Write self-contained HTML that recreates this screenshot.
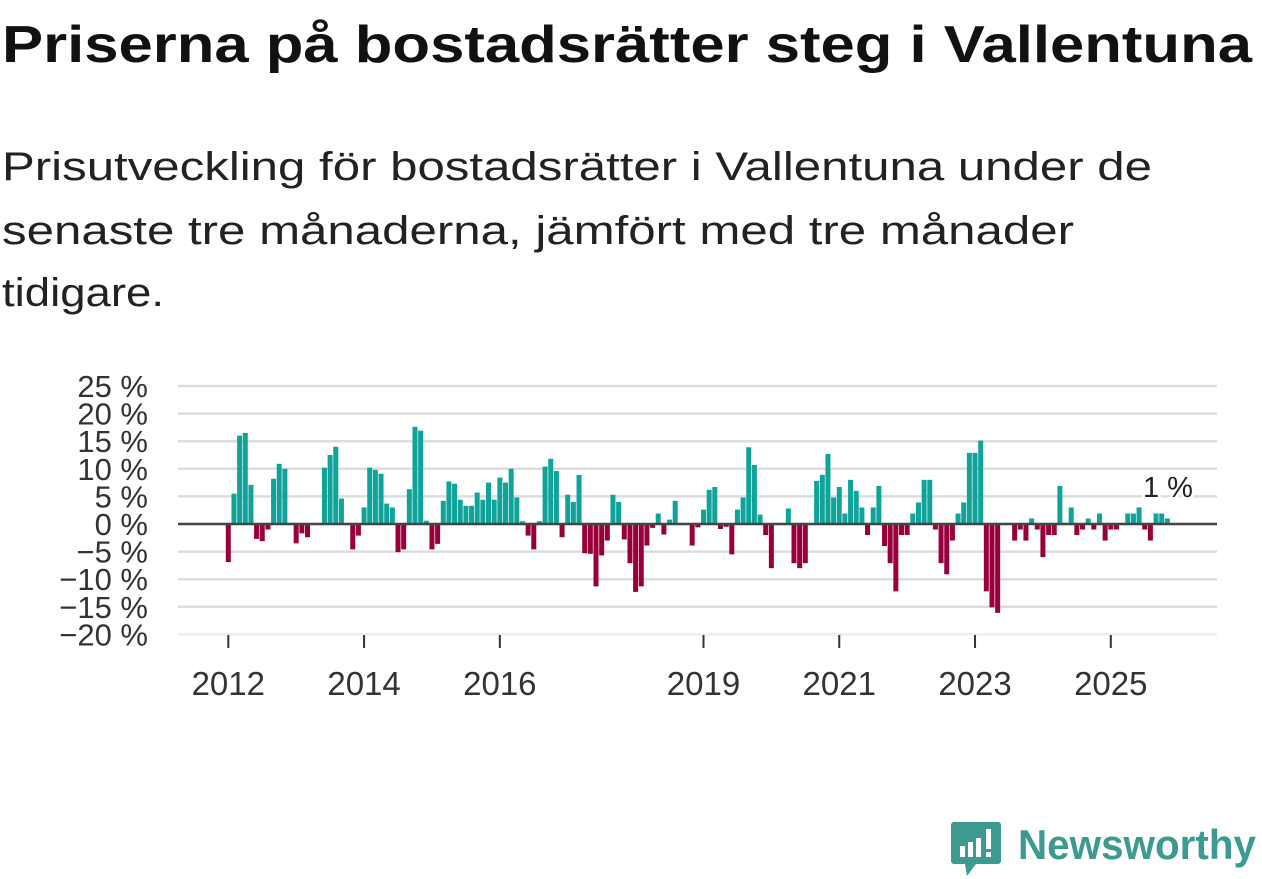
<!DOCTYPE html>
<html><head><meta charset="utf-8"><style>
html,body{margin:0;padding:0;background:#fff;}
svg{display:block;font-family:"Liberation Sans",sans-serif;}
</style></head><body>
<svg id="chart" width="1262" height="879" viewBox="0 0 1262 879">
<text x="2" y="62" font-size="52" font-weight="bold" fill="#111" textLength="1250" lengthAdjust="spacingAndGlyphs">Priserna på bostadsrätter steg i Vallentuna</text>
<g font-size="40" fill="#222">
<text x="2" y="180" textLength="1150" lengthAdjust="spacingAndGlyphs">Prisutveckling för bostadsrätter i Vallentuna under de</text>
<text x="2" y="244" textLength="1072" lengthAdjust="spacingAndGlyphs">senaste tre månaderna, jämfört med tre månader</text>
<text x="2" y="306" textLength="162" lengthAdjust="spacingAndGlyphs">tidigare.</text>
</g>
<g id="grid"></g>
<g id="ylabels"></g>
<g id="bars"></g>
<line x1="178" x2="1217" y1="524" y2="524" stroke="#444" stroke-width="2.5"/>
<g id="xticks"></g>
<text x="1168" y="497" text-anchor="middle" font-size="29" fill="#222" stroke="#fff" stroke-width="6" paint-order="stroke">1 %</text>
<g>
<path d="M954 822 h44 a3 3 0 0 1 3 3 v36 a3 3 0 0 1 -3 3 h-22 l-9 12 l-2 -12 h-11 a3 3 0 0 1 -3 -3 v-36 a3 3 0 0 1 3 -3z" fill="#3d9a90"/>
<rect x="960" y="846" width="5" height="11" fill="#fff"/><rect x="968" y="842" width="5" height="15" fill="#fff"/><rect x="976" y="838" width="5" height="19" fill="#fff"/><rect x="986" y="829" width="5" height="20" fill="#fff"/><rect x="986" y="852" width="5" height="5" fill="#fff"/>
<text x="1018" y="859" font-size="42" font-weight="bold" fill="#3d9a90" textLength="238" lengthAdjust="spacingAndGlyphs">Newsworthy</text>
</g>
</svg>
<script>
const values = [-6.9,5.5,16,16.5,7.1,-2.7,-3.1,-1,8.2,10.9,10,0,-3.5,-1.7,-2.4,0,0,10.2,12.5,14,4.6,0,-4.6,-2.1,3,10.2,9.8,9.1,3.7,3,-5.1,-4.6,6.3,17.6,16.9,0.6,-4.6,-3.6,4.2,7.7,7.3,4.4,3.3,3.3,5.7,4.4,7.5,4.4,8.4,7.5,10,4.8,
0.5,-2.1,-4.6,0.5,10.4,11.8,9.6,-2.4,5.3,4,8.9,-5.3,-5.4,-11.3,-5.7,-3,5.3,4,-2.8,-7.1,-12.3,-11.3,-3.9,-0.7,1.9,-1.9,0.8,4.2,0,0.2,-3.9,-0.6,2.6,6.2,6.7,-0.9,-0.5,-5.5,2.6,4.8,13.9,10.7,1.7,-2,-8,0,0,2.8,-7.1,-8,-7.1,0,7.8,8.9,12.7,4.8,
6.7,1.9,8,6,3,-2,3,6.9,-4,-7.1,-12.2,-2,-2,1.9,3.9,8,8,-1,-7.1,-9.1,-3,1.9,3.9,12.9,12.9,15.1,-12.2,-15.1,-16.1,0,0,-3,-1,-3,1,-1,-6,-2,-2,6.9,0,3,-2,-1,1,-1,1.9,-3,-1,-1,0,1.9,1.9,3,-1,-3,1.9,1.9,1];
const yTicks = [25,20,15,10,5,0,-5,-10,-15,-20];
const yearTicks = [2012,2014,2016,2019,2021,2023,2025];
const startYear = 2012;
const NS="http://www.w3.org/2000/svg";
function x(m){return 228.3 + m*5.657;}
function y(v){return 524 - v*5.52;}
function mk(tag,attrs,parent){const e=document.createElementNS(NS,tag);for(const k in attrs)e.setAttribute(k,attrs[k]);parent.appendChild(e);return e;}
const grid=document.getElementById('grid'),yl=document.getElementById('ylabels'),bars=document.getElementById('bars'),xt=document.getElementById('xticks');
yTicks.forEach(t=>{
  const l=mk('line',{x1:178,x2:1217,y1:y(t),y2:y(t),stroke:t===-20?'#eee':'#ddd','stroke-width':2.5},grid);
  
  
  const tx=mk('text',{x:148,y:y(t)+11,'text-anchor':'end','font-size':31,fill:'#333'},yl);
  tx.textContent=(t<0?'\u2212'+(-t):t)+' %';
  
  
});
values.forEach((v,i)=>{
  const r=mk('rect',{x:x(i)-2.5,width:5,y:Math.min(y(v),524),height:Math.abs(y(v)-524),fill:v>=0?'#0fa39a':'#99003b'},bars);
  
  
});
yearTicks.forEach(yr=>{
  const px=x((yr-startYear)*12);
  const l=mk('line',{x1:px,x2:px,y1:635,y2:648,stroke:'#333','stroke-width':2},xt);
  
  
  const tx=mk('text',{x:px,y:695,'text-anchor':'middle','font-size':33,fill:'#333'},xt);
  tx.textContent=yr;
  
  
});
</script>
</body></html>
